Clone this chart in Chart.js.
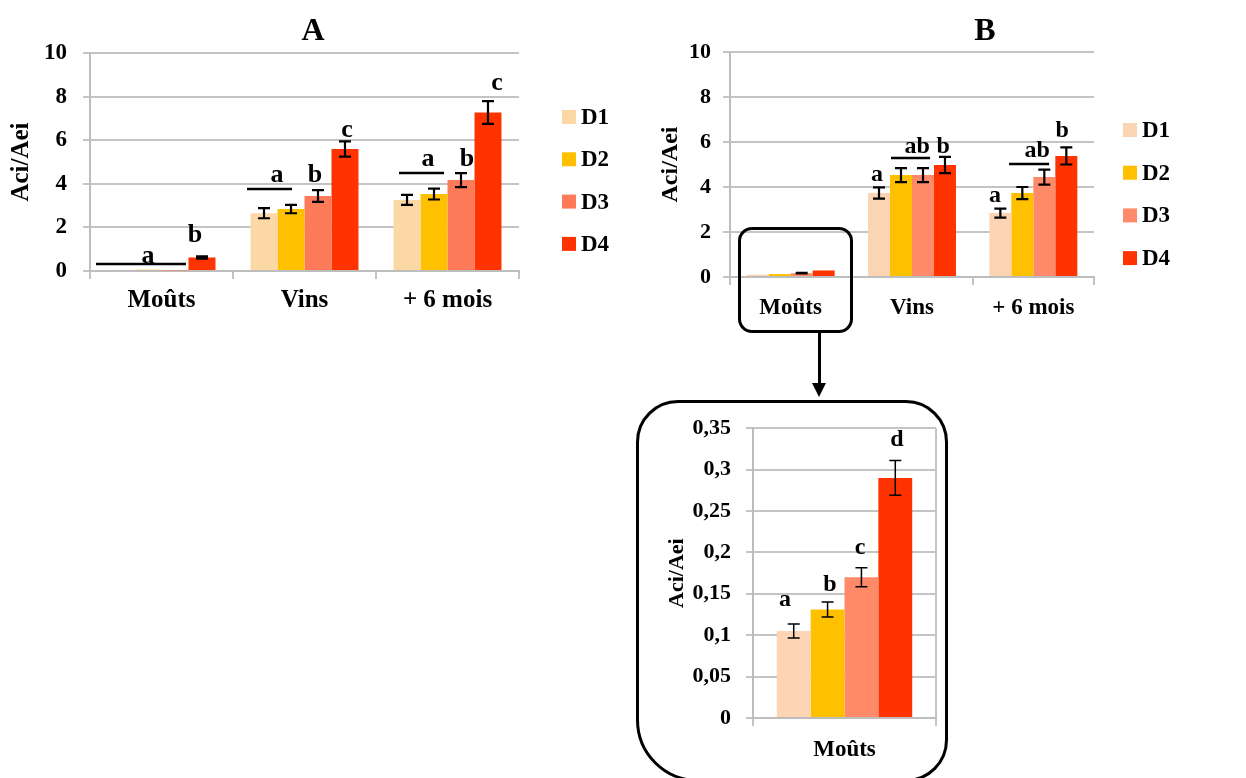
<!DOCTYPE html>
<html>
<head>
<meta charset="utf-8">
<script src="https://cdn.jsdelivr.net/npm/chart.js@4"></script>
<style>
  html, body { margin: 0; padding: 0; background: #fff; }
  #wrap { position: relative; width: 1246px; height: 778px; overflow: hidden; background: #fff; }
  canvas { position: absolute; }
  .frame { position: absolute; box-sizing: border-box; border: 3px solid #000; pointer-events: none; }
  #arrowLine { position: absolute; left: 818px; top: 333px; width: 3px; height: 52px; background: #000; }
  #arrowHead { position: absolute; left: 812px; top: 383px; width: 0; height: 0;
    border-left: 7.5px solid transparent; border-right: 7.5px solid transparent; border-top: 14px solid #000; }
</style>
</head>
<body>
<div id="wrap">
  <canvas id="chartA" width="640" height="330" style="left:0;top:0"></canvas>
  <canvas id="chartB" width="606" height="340" style="left:640px;top:0"></canvas>
  <canvas id="chartInset" width="300" height="370" style="left:640px;top:400px"></canvas>
  <div class="frame" style="left:738px;top:227px;width:115px;height:106px;border-radius:14px"></div>
  <div id="arrowLine"></div>
  <div id="arrowHead"></div>
  <div class="frame" style="left:636px;top:400px;width:312px;height:382px;border-radius:42px 42px 42px 62px"></div>
</div>
<script>
  /* ------------------------------
     Data
  ------------------------------ */

  const categories = ['Moûts', 'Vins', '+ 6 mois'];
  const seriesNames = ['D1', 'D2', 'D3', 'D4'];
  const yAxisLabel = 'Aci/Aei';

  // panel A
  const aD1 = [0.05, 2.65, 3.26];
  const aD2 = [0.06, 2.84, 3.53];
  const aD3 = [0.02, 3.44, 4.17];
  const aD4 = [0.62, 5.60, 7.27];
  const aErrD1 = [null, 0.23, 0.23];
  const aErrD2 = [null, 0.19, 0.25];
  const aErrD3 = [null, 0.27, 0.32];
  const aErrD4 = [0.05, 0.35, 0.52];

  // panel B
  const bD1 = [0.105, 3.73, 2.84];
  const bD2 = [0.131, 4.53, 3.73];
  const bD3 = [0.170, 4.53, 4.44];
  const bD4 = [0.290, 4.98, 5.38];
  const bErrD1 = [null, 0.25, 0.20];
  const bErrD2 = [null, 0.31, 0.27];
  const bErrD3 = [0.011, 0.31, 0.33];
  const bErrD4 = [null, 0.36, 0.38];

  // zoom on B / Moûts
  const insetCategory = ['Moûts'];
  const insetValues = [0.105, 0.131, 0.170, 0.290];
  const insetErr = [0.0085, 0.009, 0.0115, 0.021];

  // significance marks (x in category index units, y in data units)
  const aSigLines = [[-0.458, 0.171, 0.32], [0.598, 0.913, 3.76], [1.661, 1.976, 4.5]];
  const aSigLetters = [['a', -0.094, 0.37], ['b', 0.234, 1.33], ['a', 0.808, 4.08], ['b', 1.073, 4.08],
    ['c', 1.297, 6.15], ['a', 1.864, 4.82], ['b', 2.136, 4.82], ['c', 2.346, 8.3]];
  const bSigLines = [[0.827, 1.149, 5.29], [1.80, 2.13, 5.02]];
  const bSigLetters = [['a', 0.712, 4.25], ['ab', 1.042, 5.51], ['b', 1.256, 5.51],
    ['a', 1.685, 3.33], ['ab', 2.031, 5.33], ['b', 2.237, 6.22]];
  const insetSigLetters = [['a', -0.325, 0.135], ['b', -0.079, 0.153], ['c', 0.085, 0.198], ['d', 0.287, 0.329]];

  /* ------------------------------
     Plugins
  ------------------------------ */

  const SERIF = "'Liberation Serif', 'Times New Roman', serif";

  const errorBars = {
    id: 'errorBars',
    afterDatasetsDraw(chart, args, opts) {
      const { ctx } = chart;
      const y = chart.scales.y;
      ctx.save();
      ctx.strokeStyle = '#000';
      ctx.lineWidth = opts.width;
      chart.data.datasets.forEach((ds, i) => {
        const meta = chart.getDatasetMeta(i);
        meta.data.forEach((bar, j) => {
          const e = ds.errors ? ds.errors[j] : null;
          if (e == null) return;
          const v = ds.data[j];
          const top = y.getPixelForValue(v + e);
          const bot = y.getPixelForValue(v - e);
          ctx.beginPath();
          ctx.moveTo(bar.x, top); ctx.lineTo(bar.x, bot);
          ctx.moveTo(bar.x - opts.cap, top); ctx.lineTo(bar.x + opts.cap, top);
          ctx.moveTo(bar.x - opts.cap, bot); ctx.lineTo(bar.x + opts.cap, bot);
          ctx.stroke();
        });
      });
      ctx.restore();
    }
  };

  const signif = {
    id: 'signif',
    afterDatasetsDraw(chart, args, opts) {
      const { ctx } = chart;
      const { x, y } = chart.scales;
      ctx.save();
      ctx.strokeStyle = '#000';
      ctx.lineWidth = opts.lineWidth;
      (opts.lines || []).forEach(l => {
        const py = Math.round(y.getPixelForValue(l[2]));
        ctx.beginPath();
        ctx.moveTo(x.getPixelForValue(l[0]), py);
        ctx.lineTo(x.getPixelForValue(l[1]), py);
        ctx.stroke();
      });
      ctx.fillStyle = '#000';
      ctx.font = 'bold ' + opts.size + 'px ' + SERIF;
      ctx.textAlign = 'center';
      ctx.textBaseline = 'alphabetic';
      (opts.letters || []).forEach(t => {
        ctx.fillText(t[0], x.getPixelForValue(t[1]), y.getPixelForValue(t[2]));
      });
      ctx.restore();
    }
  };

  // panel title + side legend
  const panelDeco = {
    id: 'panelDeco',
    afterDraw(chart, args, opts) {
      const { ctx } = chart;
      ctx.save();
      ctx.fillStyle = '#000';
      if (opts.title) {
        ctx.font = 'bold 32px ' + SERIF;
        ctx.textAlign = 'center';
        ctx.textBaseline = 'middle';
        ctx.fillText(opts.title, opts.titleX, opts.titleY);
      }
      if (opts.legendX != null) {
        ctx.font = 'bold 23px ' + SERIF;
        ctx.textAlign = 'left';
        ctx.textBaseline = 'middle';
        chart.data.datasets.forEach((ds, i) => {
          const cy = opts.legendY + i * opts.legendStep;
          ctx.fillStyle = ds.backgroundColor;
          ctx.fillRect(opts.legendX, cy - 7, 14, 14);
          ctx.fillStyle = '#000';
          ctx.fillText(ds.label, opts.legendX + 19, cy + 1);
        });
      }
      ctx.restore();
    }
  };

  /* ------------------------------
     Builders
  ------------------------------ */

  function makeDatasets(values, errors, colors) {
    return seriesNames.map((name, i) => ({
      label: name,
      data: values[i],
      errors: errors[i],
      backgroundColor: colors[i],
      borderWidth: 0
    }));
  }

  function axisFont(size) {
    return { family: SERIF, size, weight: 'bold' };
  }

  function makeOptions(cfg) {
    return {
      responsive: false,
      animation: false,
      layout: { padding: cfg.padding },
      datasets: { bar: { barPercentage: 1, categoryPercentage: cfg.catPct } },
      scales: {
        x: {
          grid: { offset: true, drawOnChartArea: cfg.xGridArea, tickLength: 8, color: '#C4C4C4', lineWidth: 2 },
          border: { color: '#BDBDBD', width: 2 },
          ticks: { padding: cfg.xPad, color: '#000', font: axisFont(cfg.xFont) },
          afterFit(s) { s.height = cfg.xHeight; }
        },
        y: {
          min: 0,
          max: cfg.yMax,
          ticks: {
            stepSize: cfg.yStep,
            padding: cfg.yPad,
            color: '#000',
            font: axisFont(cfg.yFont),
            callback: v => String(+v.toFixed(2)).replace('.', ',')
          },
          grid: { color: '#C4C4C4', lineWidth: 2, tickLength: 7 },
          border: { color: '#BDBDBD', width: 2 },
          title: {
            display: true,
            text: yAxisLabel,
            color: '#000',
            font: axisFont(cfg.titleFont),
            padding: { top: cfg.titlePad, bottom: 0 }
          },
          afterFit(s) { s.width = cfg.yWidth; }
        }
      },
      plugins: {
        legend: { display: false },
        tooltip: { enabled: false },
        errorBars: { width: cfg.errWidth, cap: 6 },
        signif: { lineWidth: 2.5, size: cfg.sigSize, lines: cfg.sigLines, letters: cfg.sigLetters },
        panelDeco: cfg.deco
      }
    };
  }

  const plugins = [errorBars, signif, panelDeco];

  // -------- Panel A --------
  new Chart(document.getElementById('chartA'), {
    type: 'bar',
    data: {
      labels: categories,
      datasets: makeDatasets([aD1, aD2, aD3, aD4], [aErrD1, aErrD2, aErrD3, aErrD4],
        ['#FCD8A4', '#FFC000', '#FF7A59', '#FF3300'])
    },
    options: makeOptions({
      padding: { top: 53, left: 0, right: 121, bottom: 9 },
      catPct: 0.755, xGridArea: false, xPad: 7, xFont: 25, xHeight: 50,
      yMax: 10, yStep: 2, yPad: 16, yFont: 23, titleFont: 25, titlePad: 7, yWidth: 90,
      errWidth: 2.2, sigSize: 26, sigLines: aSigLines, sigLetters: aSigLetters,
      deco: { title: 'A', titleX: 313, titleY: 32, legendX: 562, legendY: 117, legendStep: 42.3 }
    }),
    plugins
  });

  // -------- Panel B --------
  new Chart(document.getElementById('chartB'), {
    type: 'bar',
    data: {
      labels: categories,
      datasets: makeDatasets([bD1, bD2, bD3, bD4], [bErrD1, bErrD2, bErrD3, bErrD4],
        ['#FBD4B4', '#FFC000', '#FF8A6A', '#FF3300'])
    },
    options: makeOptions({
      padding: { top: 52, left: 0, right: 152, bottom: 13 },
      catPct: 0.725, xGridArea: false, xPad: 9, xFont: 23, xHeight: 50,
      yMax: 10, yStep: 2, yPad: 12, yFont: 22, titleFont: 24, titlePad: 16, yWidth: 90,
      errWidth: 2.2, sigSize: 24, sigLines: bSigLines, sigLetters: bSigLetters,
      deco: { title: 'B', titleX: 345, titleY: 32, legendX: 483, legendY: 130, legendStep: 42.7 }
    }),
    plugins
  });

  // -------- Zoom on Moûts --------
  new Chart(document.getElementById('chartInset'), {
    type: 'bar',
    data: {
      labels: insetCategory,
      datasets: makeDatasets(insetValues.map(v => [v]), insetErr.map(e => [e]),
        ['#FCD5B5', '#FFC000', '#FF8A6A', '#FF3300'])
    },
    options: makeOptions({
      padding: { top: 25, left: 0, right: 4, bottom: 12 },
      catPct: 0.74, xGridArea: true, xPad: 10, xFont: 23, xHeight: 40,
      yMax: 0.35, yStep: 0.05, yPad: 15, yFont: 22, titleFont: 22, titlePad: 24, yWidth: 113,
      errWidth: 1.5, sigSize: 24, sigLines: [], sigLetters: insetSigLetters,
      deco: {}
    }),
    plugins
  });
</script>
</body>
</html>
